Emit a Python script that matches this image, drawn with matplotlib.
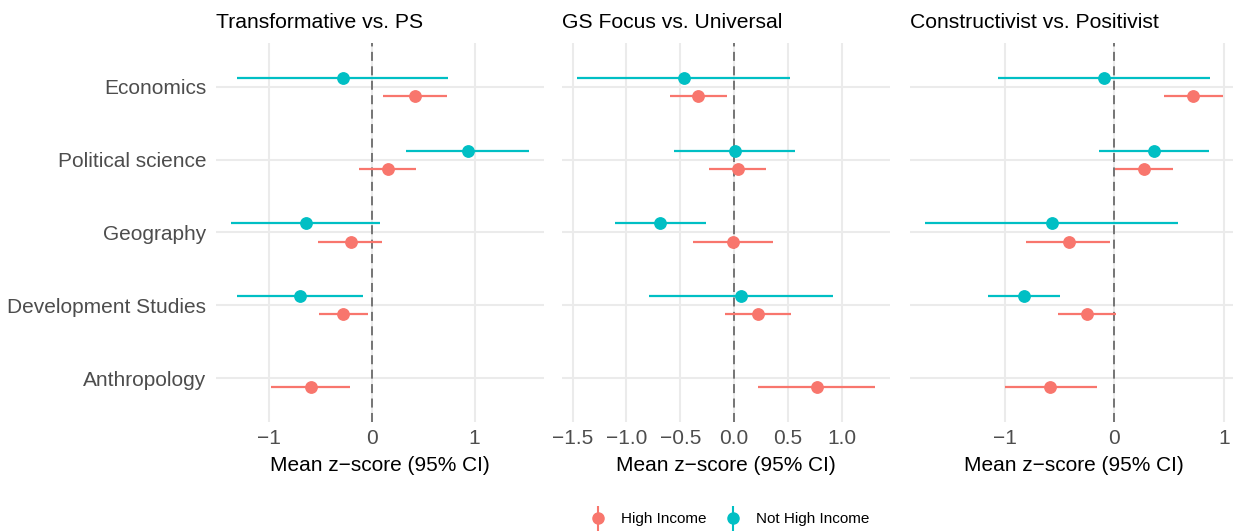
import numpy as np
import matplotlib
matplotlib.use("Agg")
import matplotlib.pyplot as plt
from matplotlib.lines import Line2D
from matplotlib.legend_handler import HandlerTuple

plt.rcParams['font.family'] = ['Liberation Sans', 'DejaVu Sans']

# disciplines, top to bottom
disciplines = ['Economics', 'Political science', 'Geography', 'Development Studies', 'Anthropology']
titles = ['Transformative vs. PS', 'GS Focus vs. Universal', 'Constructivist vs. Positivist']
groups = ['High Income', 'Not High Income']
colors = {'High Income': '#F8766D', 'Not High Income': '#00BFC4'}

# mean z-scores and 95% CI per panel (order follows disciplines)
hi_mean = [[0.42, 0.16, -0.20, -0.275, -0.59],
           [-0.337, 0.031, -0.012, 0.22, 0.768],
           [0.718, 0.271, -0.414, -0.247, -0.582]]
hi_low = [[0.11, -0.12, -0.52, -0.51, -0.98],
          [-0.60, -0.232, -0.381, -0.084, 0.223],
          [0.45, 0.003, -0.80, -0.511, -1.0]]
hi_high = [[0.73, 0.434, 0.10, -0.04, -0.21],
           [-0.068, 0.294, 0.362, 0.523, 1.307],
           [0.993, 0.536, -0.034, 0.015, -0.158]]

nh_mean = [[-0.28, 0.935, -0.64, -0.70, np.nan],
           [-0.47, 0.006, -0.687, 0.065, np.nan],
           [-0.094, 0.362, -0.569, -0.822, np.nan]]
nh_low = [[-1.315, 0.337, -1.37, -1.315, np.nan],
          [-1.46, -0.555, -1.108, -0.79, np.nan],
          [-1.064, -0.143, -1.726, -1.15, np.nan]]
nh_high = [[0.743, 1.53, 0.083, -0.086, np.nan],
           [0.517, 0.564, -0.263, 0.916, np.nan],
           [0.874, 0.861, 0.582, -0.49, np.nan]]

xticks = [[-1, 0, 1], [-1.5, -1.0, -0.5, 0.0, 0.5, 1.0], [-1, 0, 1]]
xtick_fmt = ['{:.0f}', '{:.1f}', '{:.0f}']

W, H = 1233, 531
fig = plt.figure(figsize=(W / 100, H / 100), dpi=100)

panel_left = [216, 562, 910]
panel_w = 328
panel_top, panel_bottom = 43, 422

ypos = np.arange(len(disciplines))[::-1] + 1.0
dodge = 0.125
grid_c = '#EBEBEB'
text_grey = '#4D4D4D'

for i in range(3):
    ax = fig.add_axes([panel_left[i] / W, 1 - panel_bottom / H,
                       panel_w / W, (panel_bottom - panel_top) / H])
    for s in ax.spines.values():
        s.set_visible(False)

    series = [('High Income', hi_mean[i], hi_low[i], hi_high[i], -dodge),
              ('Not High Income', nh_mean[i], nh_low[i], nh_high[i], dodge)]
    for name, m, lo, hi, off in series:
        y = ypos + off
        ax.hlines(y, lo, hi, color=colors[name], lw=1.6, zorder=3)
        ax.plot(m, y, 'o', color=colors[name], markersize=8.2, zorder=4)

    ax.margins(x=0.05)
    ax.set_ylim(0.4, 5.6)
    ax.axvline(0, color='#6B6B6B', lw=1.3, dashes=(5, 3), zorder=2)

    ax.set_xticks(xticks[i])
    ax.set_xticklabels([xtick_fmt[i].format(v).replace('-', '\u2212') for v in xticks[i]])
    ax.set_yticks(ypos)
    if i == 0:
        ax.set_yticklabels(disciplines)
    else:
        ax.set_yticklabels([])
    ax.grid(True, color=grid_c, lw=1.5, zorder=0)
    ax.set_axisbelow(True)
    ax.tick_params(length=0, labelsize=15, labelcolor=text_grey)
    ax.tick_params(axis='x', pad=5)
    ax.tick_params(axis='y', pad=7)
    ax.set_xlabel('Mean z\u2212score (95% CI)', fontsize=15, labelpad=6)

    fig.text(panel_left[i] / W, 1 - 28 / H, titles[i], fontsize=15.2,
             ha='left', va='baseline')

handles = []
for g in groups:
    v = Line2D([], [], marker='|', markersize=18, markeredgewidth=1.5,
               linestyle='none', color=colors[g])
    p = Line2D([], [], marker='o', markersize=8, linestyle='none', color=colors[g])
    handles.append((v, p))
fig.legend(handles, groups, handler_map={tuple: HandlerTuple(ndivide=1)},
           loc='center', bbox_to_anchor=(729 / W, 1 - 519 / H), ncol=2,
           frameon=False, fontsize=11, handlelength=1.2, handletextpad=0.9,
           columnspacing=1.1)

fig.savefig('out.png', dpi=100)
